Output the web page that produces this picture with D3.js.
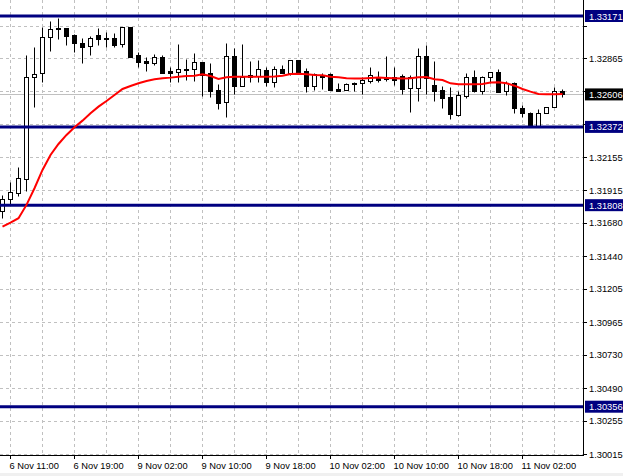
<!DOCTYPE html>
<html><head><meta charset="utf-8">
<script src="https://cdn.jsdelivr.net/npm/d3@7"></script>
<style>body{margin:0;background:#fff;overflow:hidden}svg{display:block}</style>
</head><body><svg id="c" width="623" height="476"></svg>
<script>
// Hourly candles, 6 Nov 10:00 .. 11 Nov 06:00
const opens  = [1.31765,1.31856,1.31899,1.31999,1.32729,1.32758,1.33018,1.33082,1.33082,1.33034,
                1.32976,1.32955,1.33034,1.33010,1.33010,1.32971,1.33090,1.32890,1.32847,1.32830,
                1.32873,1.32777,1.32770,1.32789,1.32787,1.32840,1.32758,1.32638,1.32550,1.32883,
                1.32669,1.32746,1.32741,1.32782,1.32698,1.32787,1.32763,1.32854,1.32775,1.32669,
                1.32746,1.32753,1.32645,1.32638,1.32691,1.32686,1.32705,1.32734,1.32722,1.32734,
                1.32739,1.32655,1.32655,1.32883,1.32674,1.32638,1.32586,1.32458,1.32597,1.32729,
                1.32633,1.32729,1.32765,1.32633,1.32686,1.32506,1.32475,1.32374,1.32475,1.32518,
                1.32631];
const highs  = [1.31882,1.31978,1.32086,1.32890,1.32950,1.33094,1.33137,1.33160,1.33085,1.33041,
                1.33010,1.33027,1.33082,1.33058,1.33049,1.33092,1.33092,1.32914,1.32878,1.32897,
                1.32890,1.32806,1.32969,1.32859,1.32902,1.32843,1.32835,1.32679,1.32974,1.32938,
                1.32969,1.32849,1.32854,1.32806,1.32813,1.32818,1.32852,1.32856,1.32794,1.32758,
                1.32758,1.32758,1.32686,1.32691,1.32698,1.32734,1.32801,1.32775,1.32883,1.32806,
                1.32753,1.32746,1.32938,1.32962,1.32847,1.32669,1.32662,1.32633,1.32758,1.32782,
                1.32739,1.32765,1.32789,1.32705,1.32698,1.32530,1.32482,1.32499,1.32518,1.32662,
                1.32645];
const lows   = [1.31717,1.31817,1.31875,1.31913,1.32518,1.32698,1.32921,1.33003,1.32962,1.32914,
                1.32835,1.32890,1.32962,1.32950,1.32948,1.32950,1.32878,1.32806,1.32777,1.32818,
                1.32758,1.32698,1.32698,1.32710,1.32705,1.32597,1.32586,1.32499,1.32442,1.32609,
                1.32667,1.32698,1.32698,1.32667,1.32662,1.32758,1.32746,1.32758,1.32626,1.32638,
                1.32645,1.32638,1.32633,1.32638,1.32633,1.32609,1.32686,1.32698,1.32705,1.32674,
                1.32609,1.32482,1.32561,1.32609,1.32561,1.32511,1.32429,1.32453,1.32578,1.32626,
                1.32609,1.32686,1.32626,1.32602,1.32475,1.32446,1.32374,1.32374,1.32470,1.32513,
                1.32586];
const closes = [1.31856,1.31901,1.32002,1.32729,1.32751,1.33018,1.33075,1.33075,1.33029,1.32974,
                1.32945,1.33010,1.33003,1.33003,1.32962,1.33090,1.32878,1.32842,1.32830,1.32873,
                1.32763,1.32763,1.32787,1.32782,1.32838,1.32746,1.32633,1.32542,1.32883,1.32669,
                1.32729,1.32734,1.32787,1.32698,1.32787,1.32763,1.32852,1.32770,1.32669,1.32751,
                1.32729,1.32638,1.32633,1.32679,1.32679,1.32710,1.32746,1.32710,1.32715,1.32710,
                1.32645,1.32729,1.32883,1.32724,1.32633,1.32578,1.32463,1.32600,1.32729,1.32633,
                1.32729,1.32765,1.32626,1.32686,1.32506,1.32475,1.32374,1.32475,1.32513,1.32631,
                1.32606];
// Moving average (red line)
const maValues = [1.31654,1.31683,1.31714,1.31810,1.31930,1.32062,1.32170,1.32249,1.32314,1.32370,
                  1.32417,1.32470,1.32518,1.32559,1.32602,1.32645,1.32667,1.32686,1.32703,1.32715,
                  1.32722,1.32727,1.32734,1.32739,1.32741,1.32751,1.32739,1.32717,1.32729,1.32734,
                  1.32734,1.32734,1.32734,1.32734,1.32735,1.32741,1.32753,1.32755,1.32751,1.32746,
                  1.32744,1.32734,1.32729,1.32722,1.32720,1.32720,1.32724,1.32727,1.32724,1.32722,
                  1.32720,1.32722,1.32729,1.32732,1.32715,1.32710,1.32686,1.32679,1.32679,1.32679,
                  1.32681,1.32691,1.32693,1.32686,1.32669,1.32645,1.32626,1.32609,1.32607,1.32607,
                  1.32609];
const xTickIndex  = [1,9,17,25,33,41,49,57,65];
const xTickLabels = ["6 Nov 11:00","6 Nov 19:00","9 Nov 02:00","9 Nov 10:00","9 Nov 18:00",
                     "10 Nov 02:00","10 Nov 10:00","10 Nov 18:00","11 Nov 02:00"];
const yTicks = [1.33100,1.32865,1.32630,1.32390,1.32155,1.31915,1.31680,1.31440,1.31205,
                1.30965,1.30730,1.30490,1.30255,1.30015];
const levels = [1.33171,1.32372,1.31808,1.30356];
const lastPrice = 1.32606;

const W = 623, H = 476, plotR = 583, plotB = 455;
const svg = d3.select("#c");
const font = "'Liberation Sans', Arial, sans-serif";
const n = opens.length;
const x = d3.scaleLinear().domain([0, 70]).range([2.5, 562.5]);
const y = d3.scaleLinear().domain([1.33171, 1.30356]).range([16, 406.7]);
const py = v => Math.round(y(v)) + 0.5;

svg.append("rect").attr("x",0).attr("y",0).attr("width",W).attr("height",H).attr("fill","#fff");
svg.append("rect").attr("x",0).attr("y",473).attr("width",W).attr("height",3).attr("fill","#f0f0f0");

svg.append("clipPath").attr("id","pc").append("rect")
  .attr("x",0).attr("y",0).attr("width",plotR).attr("height",plotB);
const plot = svg.append("g").attr("clip-path","url(#pc)");

// grid
const gridIdx = d3.range(1, n, 4);
plot.selectAll("line.vg").data(gridIdx).join("line")
  .attr("x1", d => x(d)).attr("x2", d => x(d)).attr("y1", 0).attr("y2", plotB)
  .attr("stroke", "#c0c0c0").attr("stroke-dasharray", "3,3");
plot.selectAll("line.hg").data(yTicks).join("line")
  .attr("x1", 0).attr("x2", plotR).attr("y1", d => py(d)).attr("y2", d => py(d))
  .attr("stroke", "#c0c0c0").attr("stroke-dasharray", "3,3");

// last price line
plot.append("line").attr("x1",0).attr("x2",plotR).attr("y1",py(lastPrice)).attr("y2",py(lastPrice))
  .attr("stroke","#c0c0c0").attr("stroke-width",1);

// candles
const idx = d3.range(n);
plot.selectAll("line.wick").data(idx).join("line")
  .attr("x1", i => x(i)).attr("x2", i => x(i))
  .attr("y1", i => py(highs[i])).attr("y2", i => py(lows[i]))
  .attr("stroke", "#000").attr("stroke-width", 1);
plot.selectAll("rect.body").data(idx).join("rect")
  .attr("x", i => x(i) - 2)
  .attr("y", i => py(Math.max(opens[i], closes[i])))
  .attr("width", 4)
  .attr("height", i => Math.max(0, py(Math.min(opens[i], closes[i])) - py(Math.max(opens[i], closes[i]))))
  .attr("fill", i => closes[i] >= opens[i] ? "#fff" : "#000")
  .attr("stroke", "#000").attr("stroke-width", 1);

// horizontal levels
plot.selectAll("line.lvl").data(levels).join("line")
  .attr("x1", 0).attr("x2", plotR).attr("y1", d => y(d)).attr("y2", d => y(d))
  .attr("stroke", "#000080").attr("stroke-width", 3);

// MA
plot.append("path").datum(maValues)
  .attr("d", d3.line().x((d, i) => x(i)).y(d => y(d)))
  .attr("fill", "none").attr("stroke", "#ff0000").attr("stroke-width", 2);

// axes lines
svg.append("line").attr("x1", plotR + 0.5).attr("x2", plotR + 0.5).attr("y1", 0).attr("y2", plotB + 1)
  .attr("stroke", "#000");
svg.append("line").attr("x1", 0).attr("x2", plotR + 1).attr("y1", plotB + 0.5).attr("y2", plotB + 0.5)
  .attr("stroke", "#000");

// y tick marks and labels (labels hidden where a price box covers them, as in the terminal)
const boxed = levels.concat([lastPrice]);
const visibleTicks = yTicks.filter(t => boxed.every(b => Math.abs(y(t) - y(b)) >= 11));
svg.selectAll("line.yt").data(yTicks).join("line")
  .attr("x1", plotR + 1).attr("x2", plotR + 4).attr("y1", d => py(d)).attr("y2", d => py(d))
  .attr("stroke", "#000");
svg.selectAll("text.yl").data(visibleTicks).join("text")
  .attr("x", 589).attr("y", d => y(d) + 3.5)
  .attr("font-family", font).attr("font-size", "9.3px").attr("fill", "#000")
  .text(d => d.toFixed(5));

// x ticks
svg.selectAll("line.xt").data(xTickIndex).join("line")
  .attr("x1", d => x(d)).attr("x2", d => x(d)).attr("y1", plotB).attr("y2", plotB + 4)
  .attr("stroke", "#000");
svg.selectAll("text.xl").data(xTickIndex).join("text")
  .attr("x", d => x(d) - 1).attr("y", 469)
  .attr("font-family", font).attr("font-size", "9.3px").attr("fill", "#000")
  .text((d, i) => xTickLabels[i]);

// level labels
const lab = svg.selectAll("g.lab").data(levels).join("g")
  .attr("transform", d => `translate(0,${y(d)})`);
lab.append("rect").attr("x", 585).attr("y", -6).attr("width", 38).attr("height", 12).attr("fill", "#000080");
lab.append("text").attr("x", 589).attr("y", 3.5)
  .attr("font-family", font).attr("font-size", "9.3px").attr("fill", "#fff")
  .text(d => d.toFixed(5));

// last price label
const lp = svg.append("g").attr("transform", `translate(0,${y(lastPrice)})`);
lp.append("rect").attr("x", 585).attr("y", -6).attr("width", 38).attr("height", 12).attr("fill", "#000");
lp.append("text").attr("x", 589).attr("y", 3.5)
  .attr("font-family", font).attr("font-size", "9.3px").attr("fill", "#fff")
  .text(lastPrice.toFixed(5));
</script></body></html>
